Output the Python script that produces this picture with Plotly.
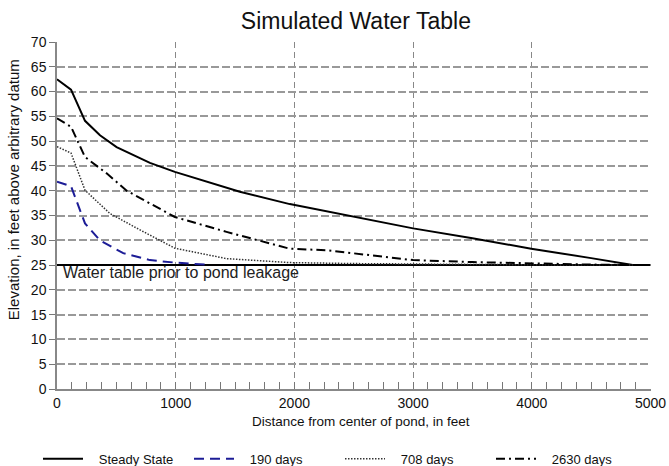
import plotly.graph_objects as go

# Distance from pond centre (ft) and simulated water-table elevation (ft)
steady_x = [0, 118, 236, 362, 502, 783, 993, 1260, 1540, 1961, 2500, 3000, 3500, 3995, 4500, 4850]
steady_y = [62.5, 60.4, 54.1, 51.2, 48.8, 45.6, 43.8, 41.8, 39.8, 37.3, 34.8, 32.4, 30.4, 28.3, 26.4, 25.0]

d190_x = [0, 118, 236, 362, 558, 783, 993, 1250]
d190_y = [41.8, 40.9, 33.4, 30.0, 27.4, 26.0, 25.5, 25.1]

d708_x = [0, 118, 236, 446, 699, 993, 1428, 1961, 2500, 3000, 3500, 4000, 4850]
d708_y = [48.9, 47.6, 40.1, 35.4, 32.1, 28.4, 26.3, 25.5, 25.3, 25.2, 25.1, 25.05, 25.0]

d2630_x = [0, 118, 236, 418, 587, 993, 1428, 1961, 2270, 3000, 3500, 3995, 4500, 4850]
d2630_y = [54.6, 52.9, 46.8, 43.5, 40.0, 34.7, 31.7, 28.3, 28.0, 26.0, 25.6, 25.3, 25.1, 25.0]

prior_x = [0, 5000]
prior_y = [25, 25]

x_ticks = [0, 1000, 2000, 3000, 4000, 5000]
y_ticks = list(range(0, 75, 5))

FONT = "Liberation Sans, Arial, sans-serif"
PAD = "\u00a0\u00a0\u00a0"  # gap between legend swatch and label

fig = go.Figure()
fig.add_trace(go.Scatter(x=prior_x, y=prior_y, mode="lines", showlegend=False,
                         line=dict(color="black", width=2)))
fig.add_trace(go.Scatter(x=steady_x, y=steady_y, mode="lines", name=PAD + "Steady State",
                         line=dict(color="black", width=2)))
fig.add_trace(go.Scatter(x=d190_x, y=d190_y, mode="lines", name=PAD + "190 days",
                         line=dict(color="#1c1c96", width=2, dash="10px,6px")))
fig.add_trace(go.Scatter(x=d708_x, y=d708_y, mode="lines", name=PAD + "708 days",
                         line=dict(color="#333333", width=1.5, dash="1.5px,1.5px")))
fig.add_trace(go.Scatter(x=d2630_x, y=d2630_y, mode="lines", name=PAD + "2630 days",
                         line=dict(color="black", width=2, dash="9px,4px,2px,4px")))

fig.add_annotation(x=30, y=25, xref="x", yref="y", text="Water table prior to pond leakage",
                   showarrow=False, xanchor="left", yanchor="top", yshift=3,
                   font=dict(family=FONT, size=16, color="#222"))

# axis titles placed as paper-anchored text
fig.add_annotation(x=0.512, y=-0.095, xref="paper", yref="paper",
                   text="Distance from center of pond, in feet", showarrow=False,
                   xanchor="center", yanchor="middle",
                   font=dict(family=FONT, size=13.5, color="#111"))
fig.add_annotation(x=-0.074, y=0.573, xref="paper", yref="paper",
                   text="Elevation, in feet above arbitrary datum", showarrow=False,
                   textangle=-90, xanchor="center", yanchor="middle",
                   font=dict(family=FONT, size=15, color="#111"))

fig.update_layout(
    width=669, height=466,
    margin=dict(l=57, r=18, t=42, b=77, autoexpand=False),
    paper_bgcolor="white", plot_bgcolor="white",
    title=dict(text="Simulated Water Table", x=0.532, xanchor="center", y=0.955, yanchor="middle",
               font=dict(family=FONT, size=23, color="#111")),
    font=dict(family=FONT, color="#111"),
    legend=dict(orientation="h", x=-0.032, xanchor="left", y=-0.158, yanchor="top",
                font=dict(family=FONT, size=13, color="#111"), entrywidth=96,
                itemwidth=40, bgcolor="rgba(0,0,0,0)"),
)

fig.update_xaxes(
    range=[0, 5004], tickvals=x_ticks, ticks="inside", ticklen=7, tickcolor="#777",
    showline=True, linecolor="#888", linewidth=1.5,
    showgrid=True, gridcolor="#888888", griddash="6px,4px", gridwidth=1,
    minor=dict(dtick=125, ticks="inside", ticklen=7, tickcolor="#777", showgrid=False),
    tickfont=dict(family=FONT, size=14, color="#111"),
    zeroline=False, automargin=False,
)
fig.update_yaxes(
    range=[0, 70], tickvals=y_ticks, ticks="outside", ticklen=6, tickcolor="#777",
    showline=True, linecolor="#888", linewidth=1.5,
    showgrid=True, gridcolor="#999999", griddash="8px,3px", gridwidth=1.5,
    tickfont=dict(family=FONT, size=14, color="#111"),
    zeroline=False, automargin=False,
)

fig.write_html("out.html")
